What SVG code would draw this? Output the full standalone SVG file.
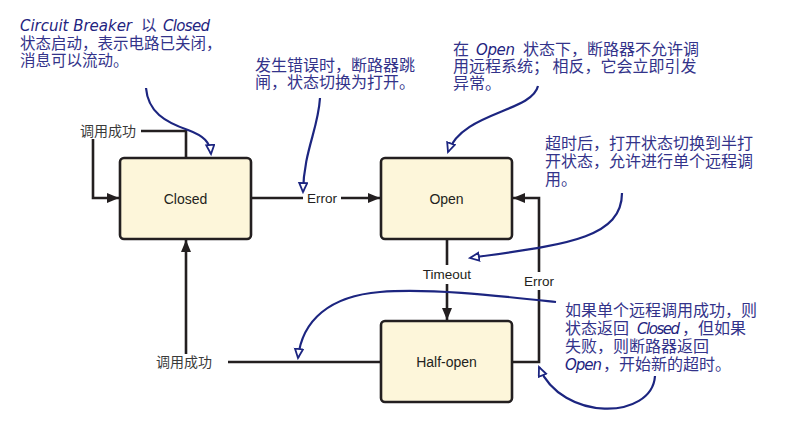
<svg xmlns="http://www.w3.org/2000/svg" width="785" height="426" viewBox="0 0 785 426">
<style>
.box{fill:#fdf6da;stroke:#231f20;stroke-width:2.6}
.lbl{font-family:"Liberation Sans",Arial,sans-serif;font-size:14px;fill:#231f20;text-anchor:middle}
.elbl{font-family:"Liberation Sans",Arial,sans-serif;font-size:13.5px;fill:#231f20;text-anchor:middle}
.clbl{font-family:"Liberation Sans","Noto Sans CJK SC",sans-serif;font-size:14px;fill:#3a3a3a;text-anchor:middle}
.conn{fill:none;stroke:#231f20;stroke-width:2.6}
.note{font-family:"Noto Sans CJK SC",sans-serif;font-size:16px;fill:#33338a}
.it{font-family:"Comic Sans MS","DejaVu Sans",sans-serif;font-style:italic;font-size:15px;fill:#1f2480}
.curve{fill:none;stroke:#1c2580;stroke-width:2.2}
</style>
<defs>
<marker id="arr" markerUnits="userSpaceOnUse" markerWidth="13" markerHeight="11" refX="12" refY="5" orient="auto">
<path d="M0,0 L12,5 L0,10 z" fill="#231f20"/>
</marker>
<marker id="oarr" markerUnits="userSpaceOnUse" markerWidth="12" markerHeight="12" refX="10" refY="5" orient="auto">
<path d="M1,1 L10,5 L1,9 z" fill="#fff" stroke="#1c2580" stroke-width="1.8"/>
</marker>
</defs>

<g id="connectors">
<polyline class="conn" points="186,158 186,131 141,131"/>
<polyline class="conn" points="93,139 93,198 119,198" marker-end="url(#arr)"/>
<text class="clbl" x="108" y="136">调用成功</text>
<line class="conn" x1="251" y1="198" x2="303" y2="198"/>
<line class="conn" x1="341" y1="198" x2="380" y2="198" marker-end="url(#arr)"/>
<text class="elbl" x="322" y="203">Error</text>
<line class="conn" x1="447" y1="239" x2="447" y2="265"/>
<line class="conn" x1="447" y1="284" x2="447" y2="320" marker-end="url(#arr)"/>
<text class="elbl" x="447" y="279">Timeout</text>
<polyline class="conn" points="512,362 539,362 539,290"/>
<polyline class="conn" points="539,272 539,198 513,198" marker-end="url(#arr)"/>
<text class="elbl" x="539" y="286">Error</text>
<line class="conn" x1="381" y1="362" x2="228" y2="362"/>
<line class="conn" x1="186" y1="354" x2="186" y2="240" marker-end="url(#arr)"/>
<text class="clbl" x="184" y="367">调用成功</text>
</g>

<g id="closed">
<rect class="box" x="120" y="158" width="131" height="81" rx="4"/>
<text class="lbl" x="185.5" y="204">Closed</text>
</g>
<g id="open">
<rect class="box" x="381" y="158" width="131" height="81" rx="4"/>
<text class="lbl" x="446.5" y="204">Open</text>
</g>
<g id="half-open">
<rect class="box" x="381" y="321" width="131" height="81" rx="4"/>
<text class="lbl" x="446.5" y="367">Half-open</text>
</g>

<g id="annotations">
<path class="curve" d="M146,88 C148,112 165,122 188,130 C204,136 210,142 211,154" marker-end="url(#oarr)"/>
<path class="curve" d="M320,98 C318,130 304,150 303,192" marker-end="url(#oarr)"/>
<path class="curve" d="M538,86 C532,112 462,112 448,152" marker-end="url(#oarr)"/>
<path class="curve" d="M622,193 C622,240 560,245 470,258" marker-end="url(#oarr)"/>
<path class="curve" d="M556,302 C500,296 430,288 380,292 C330,296 302,320 298,358" marker-end="url(#oarr)"/>
<path class="curve" d="M655,376 C652,420 562,422 539,367" marker-end="url(#oarr)"/>

<text class="note" style="font-size:15.5px"><tspan class="it" x="20" y="31" textLength="112">Circuit Breaker</tspan><tspan x="141" y="31">以</tspan><tspan class="it" x="163" y="31" textLength="47">Closed</tspan><tspan x="20" y="49">状态启动，表示电路已关闭，</tspan><tspan x="20" y="66">消息可以流动。</tspan></text>

<text class="note"><tspan x="255" y="71">发生错误时，断路器跳</tspan><tspan x="255" y="88">闸，状态切换为打开。</tspan></text>

<text class="note"><tspan x="453" y="55">在</tspan><tspan class="it" x="476" y="55" textLength="39">Open</tspan><tspan x="523" y="55">状态下，断路器不允许调</tspan><tspan x="453" y="72">用远程系统； 相反，它会立即引发</tspan><tspan x="453" y="89">异常。</tspan></text>

<text class="note"><tspan x="545" y="149">超时后，打开状态切换到半打</tspan><tspan x="545" y="167">开状态，允许进行单个远程调</tspan><tspan x="545" y="185">用。</tspan></text>

<text class="note"><tspan x="565" y="316">如果单个远程调用成功，则</tspan><tspan x="565" y="334">状态返回</tspan><tspan class="it" x="637" y="334" textLength="43">Closed</tspan><tspan x="682" y="334">，但如果</tspan><tspan x="565" y="352">失败，则断路器返回</tspan><tspan class="it" x="565" y="370" textLength="37">Open</tspan><tspan x="603" y="370">，开始新的超时。</tspan></text>
</g>
</svg>
